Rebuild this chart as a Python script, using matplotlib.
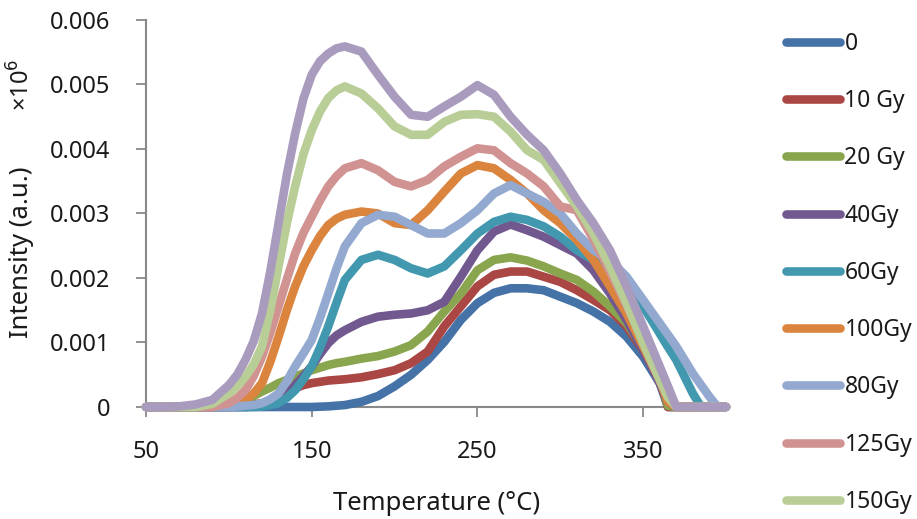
import matplotlib
matplotlib.use("Agg")
import matplotlib.pyplot as plt

plt.rcParams['font.family'] = ['Noto Sans', 'DejaVu Sans']

# temperature grid (°C), finer where the glow curves rise fast and where they end
temperature = [50, 60, 70, 80, 90, 100,
               105, 110, 115, 120, 125, 130, 135, 140, 145, 150, 155, 160, 165,
               170, 180, 190, 200, 210, 220, 230, 240, 250, 260, 270, 280, 290, 300,
               310, 320, 330, 340, 350, 360,
               365, 370, 375, 380, 385, 390, 395, 400]

# TL intensity, in units of 0.001 (x10^6 a.u.)
dose_0 = [0, 0, 0, 0, 0, 0,
          0, 0, 0, 0, 0, 0, 0, 0, 0, 0, 0.005, 0.01, 0.02,
          0.03, 0.08, 0.17, 0.32, 0.50, 0.73, 1.01, 1.35, 1.61, 1.77, 1.84, 1.84, 1.81,
          1.71, 1.61, 1.48, 1.32, 1.09, 0.78, 0.37,
          0, 0, 0, 0, 0, 0, 0, 0]
dose_10 = [0, 0, 0, 0, 0, 0,
           0.01, 0.02, 0.04, 0.06, 0.09, 0.13, 0.21, 0.29, 0.34, 0.37, 0.39, 0.41, 0.42,
           0.43, 0.46, 0.51, 0.57, 0.68, 0.86, 1.25, 1.56, 1.87, 2.05, 2.10, 2.10, 2.02,
           1.94, 1.81, 1.66, 1.50, 1.25, 0.88, 0.42,
           0, 0, 0, 0, 0, 0, 0, 0]
dose_20 = [0, 0, 0, 0, 0.02, 0.06,
           0.08, 0.11, 0.17, 0.24, 0.30, 0.37, 0.42, 0.47, 0.52, 0.57, 0.61, 0.65, 0.68,
           0.70, 0.75, 0.79, 0.86, 0.96, 1.17, 1.48, 1.76, 2.12, 2.28, 2.32, 2.27, 2.18,
           2.07, 1.97, 1.79, 1.56, 1.30, 0.91, 0.44,
           0.02, 0, 0, 0, 0, 0, 0, 0]
dose_40 = [0, 0, 0, 0, 0, 0,
           0, 0, 0.01, 0.02, 0.05, 0.11, 0.21, 0.34, 0.48, 0.63, 0.82, 0.99, 1.11,
           1.19, 1.32, 1.40, 1.43, 1.45, 1.50, 1.63, 2.02, 2.43, 2.72, 2.83, 2.74, 2.64,
           2.51, 2.38, 2.12, 1.76, 1.35, 0.88, 0.37,
           0.08, 0, 0, 0, 0, 0, 0, 0]
dose_60 = [0, 0, 0, 0, 0, 0,
           0, 0, 0, 0.01, 0.03, 0.06, 0.14, 0.26, 0.43, 0.63, 0.92, 1.25, 1.62,
           1.97, 2.28, 2.36, 2.28, 2.15, 2.07, 2.18, 2.43, 2.69, 2.87, 2.95, 2.90, 2.80,
           2.64, 2.43, 2.28, 2.15, 1.92, 1.56, 1.14,
           0.93, 0.73, 0.47, 0.21, 0, 0, 0, 0]
dose_100 = [0, 0, 0, 0, 0, 0.02,
            0.05, 0.11, 0.21, 0.37, 0.70, 1.09, 1.50, 1.87, 2.18, 2.43, 2.65, 2.82, 2.92,
            2.98, 3.03, 3.00, 2.85, 2.82, 3.05, 3.34, 3.62, 3.75, 3.70, 3.52, 3.31, 3.05,
            2.85, 2.59, 2.28, 1.87, 1.45, 0.94, 0.42,
            0.08, 0, 0, 0, 0, 0, 0, 0]
dose_80 = [0, 0, 0, 0, 0, 0,
           0.01, 0.02, 0.03, 0.06, 0.12, 0.21, 0.40, 0.63, 0.83, 1.04, 1.38, 1.76, 2.15,
           2.49, 2.85, 2.98, 2.95, 2.82, 2.69, 2.69, 2.85, 3.05, 3.31, 3.44, 3.31, 3.18,
           3.00, 2.69, 2.43, 2.28, 2.02, 1.66, 1.30,
           1.12, 0.94, 0.73, 0.52, 0.34, 0.16, 0, 0]
dose_125 = [0, 0, 0, 0, 0, 0.06,
            0.14, 0.26, 0.48, 0.78, 1.15, 1.56, 1.98, 2.38, 2.70, 2.95, 3.20, 3.42, 3.58,
            3.70, 3.78, 3.67, 3.49, 3.42, 3.52, 3.73, 3.88, 4.01, 3.98, 3.78, 3.62, 3.42,
            3.11, 3.05, 2.60, 2.10, 1.58, 1.02, 0.45,
            0.18, 0, 0, 0, 0, 0, 0, 0]
dose_150 = [0, 0, 0, 0, 0.05, 0.21,
            0.32, 0.47, 0.66, 0.94, 1.50, 2.18, 2.85, 3.42, 3.92, 4.29, 4.58, 4.79, 4.91,
            4.97, 4.86, 4.63, 4.35, 4.22, 4.22, 4.42, 4.53, 4.54, 4.50, 4.27, 3.98, 3.83,
            3.47, 3.11, 2.69, 2.18, 1.61, 0.99, 0.42,
            0.15, 0, 0, 0, 0, 0, 0, 0]
dose_top = [0, 0, 0.01, 0.04, 0.11, 0.34,
            0.50, 0.73, 1.02, 1.45, 2.10, 2.85, 3.60, 4.24, 4.78, 5.15, 5.36, 5.48, 5.56,
            5.59, 5.51, 5.15, 4.81, 4.53, 4.50, 4.66, 4.81, 4.99, 4.84, 4.50, 4.22, 3.98,
            3.62, 3.21, 2.85, 2.43, 1.87, 1.25, 0.63,
            0.32, 0, 0, 0, 0, 0, 0, 0]

series = [dose_0, dose_10, dose_20, dose_40, dose_60, dose_100, dose_80, dose_125,
          dose_150, dose_top]
labels = ['0', '10 Gy', '20 Gy', '40Gy', '60Gy', '100Gy', '80Gy', '125Gy', '150Gy', None]
colors = ['#4572A7', '#AA4643', '#89A54E', '#71588F', '#4198AF', '#DB843D',
          '#93A9CF', '#D19392', '#B9CD96', '#A99BBD']

x_ticks = [50, 150, 250, 350]
y_ticks = [0, 0.001, 0.002, 0.003, 0.004, 0.005, 0.006]
y_tick_labels = ['0', '0.001', '0.002', '0.003', '0.004', '0.005', '0.006']

fig = plt.figure(figsize=(9.17, 5.19), dpi=100)
ax = fig.add_axes([0.1592, 0.2158, 0.6325, 0.7457])

lines = []
for vals, lab, col in zip(series, labels, colors):
    ln, = ax.plot(temperature, [v * 1e-3 for v in vals], color=col, lw=6.2,
                  solid_capstyle='round', solid_joinstyle='round', clip_on=False,
                  label=lab)
    if lab is not None:
        lines.append(ln)

ax.set_xlim(50, 400)
ax.set_ylim(0, 0.006)
ax.set_xticks(x_ticks)
ax.set_yticks(y_ticks)
ax.set_yticklabels(y_tick_labels)

axis_grey = '#898989'
for side in ['top', 'right']:
    ax.spines[side].set_visible(False)
for side in ['left', 'bottom']:
    ax.spines[side].set_color(axis_grey)
    ax.spines[side].set_linewidth(1.5)
    ax.spines[side].set_zorder(0)
ax.tick_params(axis='both', direction='out', length=7.5, width=1.3, color=axis_grey,
               labelsize=17, labelcolor='#1a1a1a')
ax.tick_params(axis='x', pad=16)
ax.tick_params(axis='y', pad=18)

fig.text(437 / 917, 1 - 503 / 519, 'Temperature (°C)', fontsize=18.5,
         ha='center', va='center', color='#1a1a1a')
fig.text(22 / 917, 1 - 252 / 519, 'Intensity (a.u.)', fontsize=18.5, rotation=90,
         ha='center', va='center', color='#1a1a1a')
fig.text(22 / 917, 1 - 85 / 519, r'×10$^{6}$', fontsize=17, rotation=90,
         ha='center', va='center', color='#1a1a1a')

ax.legend(handles=lines, loc='upper left', bbox_to_anchor=(786 / 917, 1 - 32 / 519),
          bbox_transform=fig.transFigure, frameon=False, fontsize=16.5,
          handlelength=2.35, handletextpad=0.2, labelspacing=1.45,
          borderpad=0, borderaxespad=0, labelcolor='#1a1a1a')

fig.savefig('out.png', dpi=100)
